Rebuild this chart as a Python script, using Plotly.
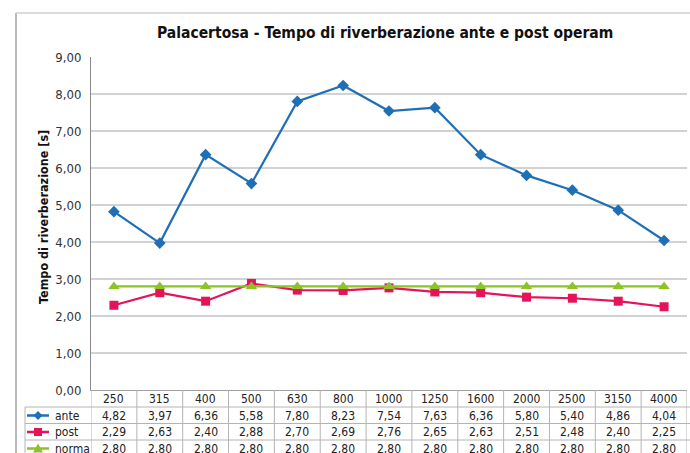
import plotly.graph_objects as go

categories = ["250", "315", "400", "500", "630", "800", "1000", "1250", "1600", "2000", "2500", "3150", "4000"]
ante = [4.82, 3.97, 6.36, 5.58, 7.80, 8.23, 7.54, 7.63, 6.36, 5.80, 5.40, 4.86, 4.04]
post = [2.29, 2.63, 2.40, 2.88, 2.70, 2.69, 2.76, 2.65, 2.63, 2.51, 2.48, 2.40, 2.25]
norma = [2.80] * 13
series_names = ["ante", "post", "norma"]
y_ticks = [0, 1, 2, 3, 4, 5, 6, 7, 8, 9]

W, H = 690, 453
FONT = "DejaVu Sans Condensed, Liberation Sans Narrow, sans-serif"
colors = {"ante": "#1f6fb6", "post": "#e5145a", "norma": "#8cc326"}
symbols = {"ante": "diamond", "post": "square", "norma": "triangle-up"}
msize = {"ante": 9, "post": 9, "norma": 10}
values = {"ante": ante, "post": post, "norma": norma}

def px(x):
    return x / W

def py(y):
    return 1 - y / H

fig = go.Figure()
for name in series_names:
    fig.add_trace(go.Scatter(
        x=categories, y=values[name], name=name, mode="lines+markers",
        line=dict(color=colors[name], width=2.2),
        marker=dict(symbol=symbols[name], size=msize[name], color=colors[name]),
        showlegend=False, cliponaxis=False,
    ))

shapes = []
annotations = []
grid_col = "#b4b4b4"
n = len(categories)
# outer chart border
shapes.append(dict(type="line", xref="paper", yref="paper", x0=px(16), x1=px(16), y0=py(13), y1=py(460),
                   line=dict(color="#8a8a8a", width=1.2)))
shapes.append(dict(type="line", xref="paper", yref="paper", x0=px(16), x1=px(700), y0=py(13), y1=py(13),
                   line=dict(color="#cfcfcf", width=1.5)))
# table verticals
for k in range(n + 1):
    shapes.append(dict(type="line", xref="x", yref="paper", x0=k - 0.5, x1=k - 0.5, y0=py(390), y1=py(460),
                       line=dict(color=grid_col, width=1)))
# table horizontals
for yy in [407, 423.5, 440]:
    shapes.append(dict(type="line", xref="paper", yref="paper", x0=px(25), x1=px(700), y0=py(yy), y1=py(yy),
                       line=dict(color=grid_col, width=1)))
shapes.append(dict(type="line", xref="paper", yref="paper", x0=px(25), x1=px(25), y0=py(407), y1=py(460),
                   line=dict(color=grid_col, width=1)))

# header row
for i, c in enumerate(categories):
    annotations.append(dict(x=i, xref="x", y=py(399), yref="paper", text=c, showarrow=False,
                            font=dict(family=FONT, size=12, color="#222"), xanchor="center", yanchor="middle"))
row_y = {"ante": 415.5, "post": 432, "norma": 448.5}
for name in series_names:
    for i, v in enumerate(values[name]):
        annotations.append(dict(x=i, xref="x", y=py(row_y[name]), yref="paper",
                                text=f"{v:.2f}".replace(".", ","), showarrow=False,
                                font=dict(family=FONT, size=12, color="#222"), xanchor="center", yanchor="middle"))
    annotations.append(dict(x=px(53), xref="paper", y=py(row_y[name]), yref="paper", text=name, showarrow=False,
                            font=dict(family=FONT, size=12, color="#222"), xanchor="left", yanchor="middle"))
    yk = row_y[name]
    shapes.append(dict(type="line", xref="paper", yref="paper", x0=px(27), x1=px(49), y0=py(yk), y1=py(yk),
                       line=dict(color=colors[name], width=2.5)))
    cx, cy = 38, yk
    if name == "ante":
        path = f"M {px(cx-4.5)} {py(cy)} L {px(cx)} {py(cy-4.5)} L {px(cx+4.5)} {py(cy)} L {px(cx)} {py(cy+4.5)} Z"
    elif name == "post":
        path = f"M {px(cx-4)} {py(cy-4)} L {px(cx+4)} {py(cy-4)} L {px(cx+4)} {py(cy+4)} L {px(cx-4)} {py(cy+4)} Z"
    else:
        path = f"M {px(cx-5)} {py(cy+4)} L {px(cx+5)} {py(cy+4)} L {px(cx)} {py(cy-5)} Z"
    shapes.append(dict(type="path", xref="paper", yref="paper", path=path,
                       fillcolor=colors[name], line=dict(color=colors[name], width=0)))

# title
annotations.append(dict(x=px(385), xref="paper", y=py(33), yref="paper",
                        text="<b>Palacertosa - Tempo di riverberazione ante e post operam</b>",
                        showarrow=False, font=dict(family=FONT, size=15.5, color="#111"),
                        xanchor="center", yanchor="middle"))
# y title
annotations.append(dict(x=px(43), xref="paper", y=py(217), yref="paper",
                        text="<b>Tempo di riverberazione [s]</b>", textangle=-90,
                        showarrow=False, font=dict(family=FONT, size=12.5, color="#111"),
                        xanchor="center", yanchor="middle"))

fig.update_layout(
    width=W, height=H,
    margin=dict(l=0, r=0, t=0, b=0, pad=0, autoexpand=False),
    paper_bgcolor="white", plot_bgcolor="white",
    separators=",.",
    shapes=shapes, annotations=annotations,
    xaxis=dict(domain=[px(91), px(687)], type="category", range=[-0.5, n - 0.5], automargin=False,
               showticklabels=False, showgrid=False, zeroline=False, ticks="",
               showline=True, linecolor="#a0a0a0", linewidth=1),
    yaxis=dict(domain=[py(390), py(57)], range=[0, 9], tickvals=y_ticks, tickformat=".2f", automargin=False,
               showgrid=True, gridcolor="#d2d2d2", gridwidth=1.5, zeroline=False,
               showline=True, linecolor="#8a8a8a", linewidth=1, ticks="",
               tickfont=dict(family=FONT, size=13, color="#333"), ticklabelstandoff=6),
)
fig.write_html("out.html", config={"responsive": False, "displayModeBar": False},
               post_script="document.body.style.margin='0';document.body.style.overflow='hidden';")
